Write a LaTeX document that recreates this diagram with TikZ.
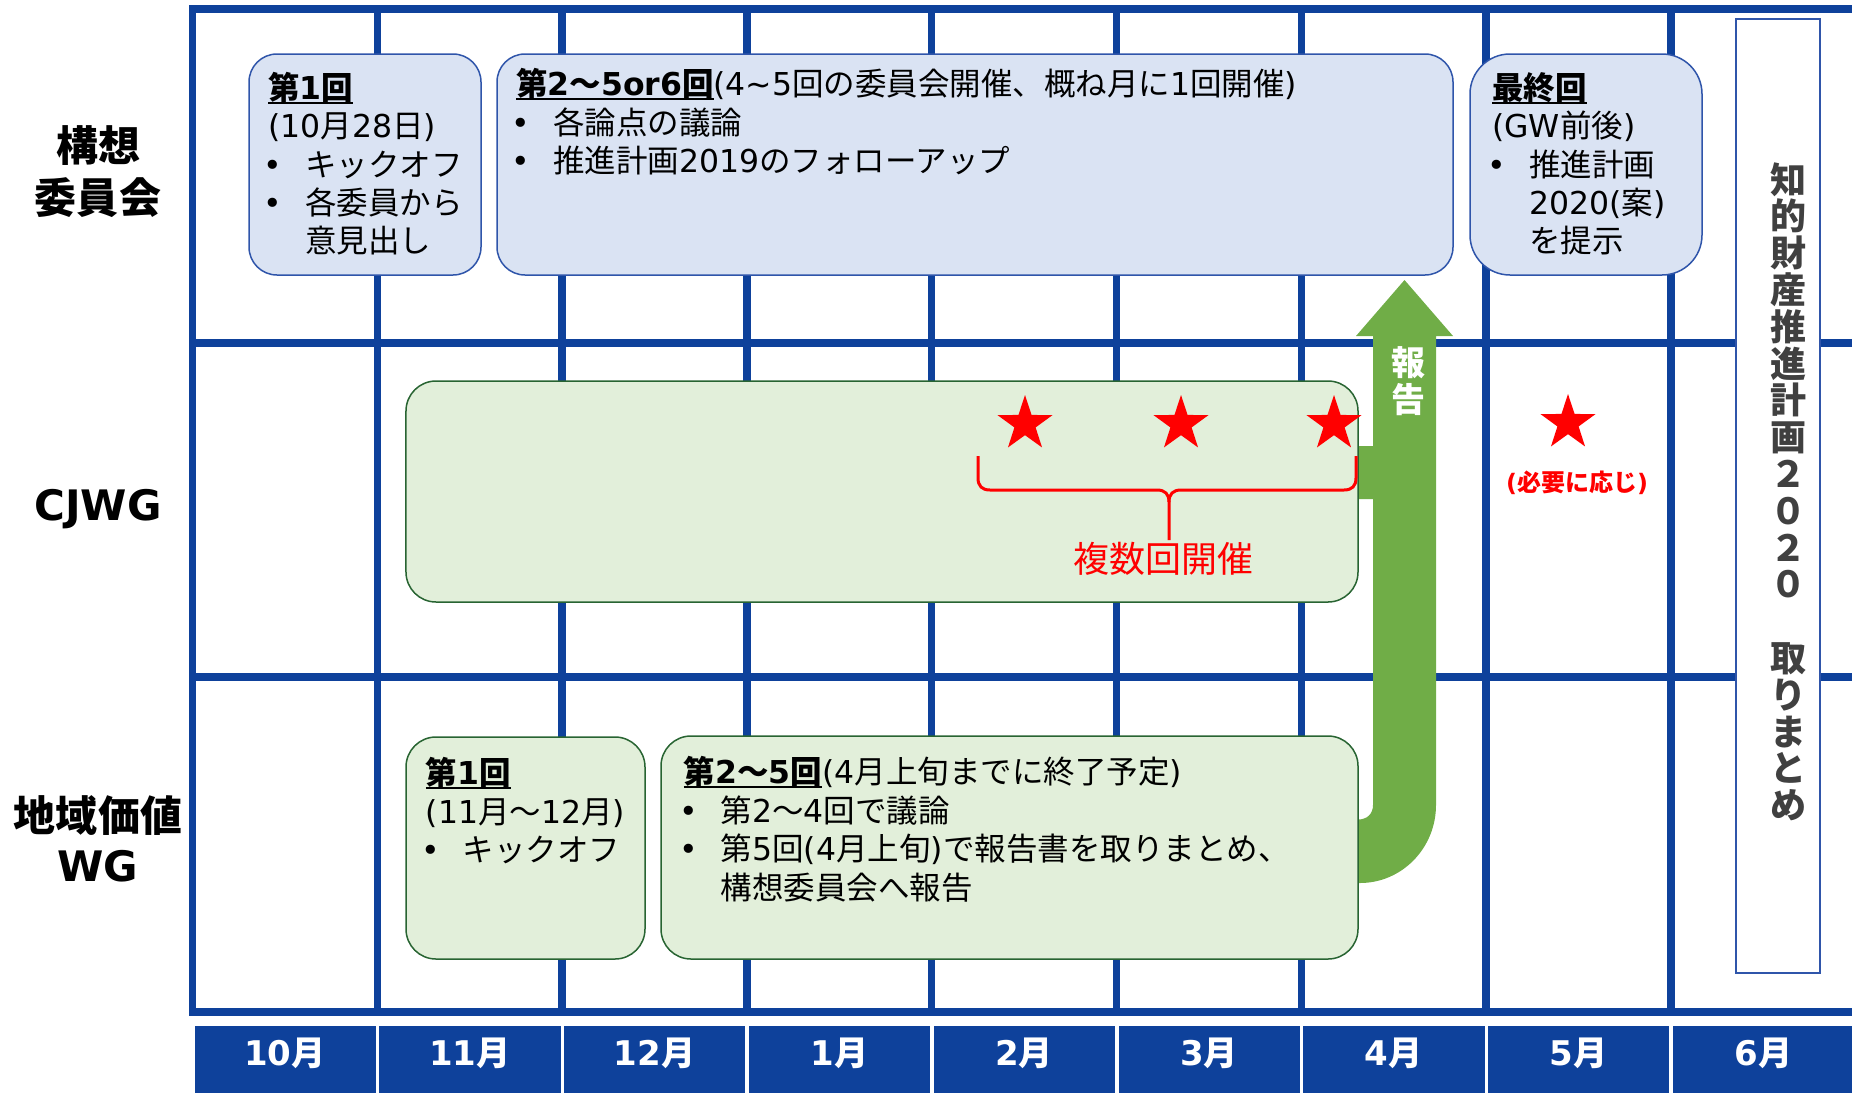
\documentclass[tikz,border=0pt]{standalone}
\usepackage{fontspec}
\setmainfont{Noto Sans CJK JP}
\newfontfamily\dejavu{DejaVu Sans}
\usetikzlibrary{shapes.geometric}
\definecolor{gridblue}{RGB}{14,65,155}
\definecolor{kfill}{RGB}{218,227,243}
\definecolor{kdraw}{RGB}{47,85,170}
\definecolor{gfill}{RGB}{226,239,218}
\definecolor{gdraw}{RGB}{40,100,50}
\definecolor{agreen}{RGB}{112,173,71}
\definecolor{vgray}{RGB}{64,64,64}
\newcommand{\myul}[1]{\setbox0=\hbox{#1}\leavevmode\rlap{\rule[-5bp]{\wd0}{2.4bp}}\box0}
\newcommand{\mybul}{\makebox[37bp][l]{\makebox[10bp]{\dejavu •}}}
\newcommand{\myind}{\hspace*{37bp}}
\newcommand{\latn}[1]{{\dejavu #1}}
\begin{document}
\begin{tikzpicture}[x=1bp,y=-1bp,
  gl/.style={draw=gridblue, line width=7.5bp},
  kbox/.style={draw=kdraw, fill=kfill, line width=1.5bp, rounded corners=28bp, rectangle, inner sep=0},
  gbox/.style={draw=gdraw, fill=gfill, line width=1.5bp, rounded corners=30bp, rectangle, inner sep=0},
  tx/.style={font=\fontsize{31.5bp}{38bp}\selectfont, inner sep=0, anchor=base west},
  lab/.style={font=\fontsize{42bp}{50bp}\selectfont\bfseries, inner sep=0, anchor=base},
  labl/.style={font=\fontsize{42bp}{50bp}\selectfont\bfseries, inner sep=0},
  month/.style={font=\fontsize{34bp}{40bp}\selectfont\bfseries, text=white, inner sep=0},
  vt/.style={font=\fontsize{36bp}{40bp}\selectfont\bfseries, text=vgray, inner sep=0, anchor=base},
  hk/.style={font=\fontsize{34bp}{40bp}\selectfont\bfseries, text=white, inner sep=0, anchor=base},
  rstar/.style={star, star points=5, star point ratio=2.6, fill=red, minimum size=58bp, inner sep=0}]
\useasboundingbox (0,0) rectangle (1852,1093);
% grid
\draw[gl, line width=7bp] (192.5,5) -- (192.5,1015.5);
\foreach \y in {9,343,677,1012} \draw[gl] (189,\y) -- (1852,\y);
\foreach \i in {1,...,8} \draw[gl] ({192.5+184.8*\i},9) -- ({192.5+184.8*\i},1012);
% month headers
\foreach \i/\m in {0/10,1/11,2/12,3/1,4/2,5/3,6/4,7/5,8/6} {
  \fill[gridblue] ({192.5+184.8*\i+2},1026) rectangle ({min(192.5+184.8*(\i+1)-1.5,1852)},1093);
  \node[month] (m\i) at ({192.5+184.8*(\i+0.5)},1053) {\latn{\m}月};
}
% vertical summary box
\node[draw=kdraw, fill=white, line width=2bp, minimum width=84bp, minimum height=954bp, inner sep=0] (vb) at (1778,496) {};
\foreach \c [count=\i from 0] in {知,的,財,産,推,進,計,画,２,０,２,０}
  \node[vt] (v\i) at (1788,{193+36.8*\i}) {\c};
\foreach \c [count=\i from 13] in {取,り,ま,と,め}
  \node[vt] (v\i) at (1788,{193+36.8*\i}) {\c};
% green report arrow
\fill[agreen] (1358,883) -- (1360,883) .. controls (1402,883) and (1436,848) .. (1436,805)
  -- (1436,336) -- (1453,336) -- (1404.5,280) -- (1356,336) -- (1373,336) -- (1373,446)
  -- (1358,446) -- (1358,499) -- (1373,499) -- (1373,805)
  .. controls (1373,814) and (1367,819.5) .. (1358,819.5) -- cycle;
\node[hk] (h1) at (1408,375) {報};
\node[hk] (h2) at (1408,412) {告};
% boxes
\node[kbox, minimum width=232bp, minimum height=221bp] (k1) at (365,164.5) {};
\node[kbox, minimum width=956bp, minimum height=221bp] (k2) at (975,164.5) {};
\node[kbox, rounded corners=40bp, minimum width=232bp, minimum height=221bp] (k3) at (1586,164.5) {};
\node[gbox, minimum width=952bp, minimum height=221bp] (cj) at (882,491.5) {};
\node[gbox, minimum width=239bp, minimum height=222bp] (c1) at (525.5,848) {};
\node[gbox, minimum width=697bp, minimum height=223bp] (c2) at (1009.5,847.5) {};
% row labels
\node[lab] (r1a) at (98,161) {構想};
\node[lab] (r1b) at (98,213) {委員会};
\node[labl] (r2) at (98,509) {\latn{CJWG}};
\node[lab] (r3a) at (98,831) {地域価値};
\node[labl] (r3b) at (98,866) {\latn{WG}};
% box texts
\node[tx] (k1a) at (268,99) {\bfseries\myul{第\latn{1}回}};
\node[tx] (k1b) at (268,137.5) {\latn{(10}月\latn{28}日\latn{)}};
\node[tx] (k1c) at (268,176) {\mybul キックオフ};
\node[tx] (k1d) at (268,214) {\mybul 各委員から};
\node[tx] (k1e) at (268,252.5) {\myind 意見出し};
\node[tx] (k2a) at (516,95) {{\bfseries\myul{第\latn{2}～\latn{5or6}回}}\latn{(4\textasciitilde 5}回の委員会開催、概ね月に\latn{1}回開催\latn{)}};
\node[tx] (k2b) at (516,134) {\mybul 各論点の議論};
\node[tx] (k2c) at (516,172) {\mybul 推進計画\latn{2019}のフォローアップ};
\node[tx] (k3a) at (1492,99) {\bfseries\myul{最終回}};
\node[tx] (k3b) at (1492,137.5) {\latn{(GW}前後\latn{)}};
\node[tx] (k3c) at (1492,176) {\mybul 推進計画};
\node[tx] (k3d) at (1492,214) {\myind\latn{2020(}案\latn{)}};
\node[tx] (k3e) at (1492,252.5) {\myind を提示};
\node[tx] (c1a) at (425.6,784) {\bfseries\myul{第\latn{1}回}};
\node[tx] (c1b) at (425.6,823) {\latn{(11}月～\latn{12}月\latn{)}};
\node[tx] (c1c) at (425.6,861) {\mybul キックオフ};
\node[tx] (c2a) at (683.7,783) {{\bfseries\myul{第\latn{2}～\latn{5}回}}\latn{(4}月上旬までに終了予定\latn{)}};
\node[tx] (c2b) at (683.7,822) {\mybul 第\latn{2}～\latn{4}回で議論};
\node[tx] (c2c) at (683.7,860) {\mybul 第\latn{5}回\latn{(4}月上旬\latn{)}で報告書を取りまとめ、};
\node[tx] (c2d) at (683.7,899) {\myind 構想委員会へ報告};
% stars
\node[rstar] (s1) at (1025,424) {};
\node[rstar] (s2) at (1181,424) {};
\node[rstar] (s3) at (1334,424) {};
\node[rstar] (s4) at (1568,423) {};
\node[font=\fontsize{24bp}{28bp}\selectfont\bfseries, text=red, inner sep=0] (hy) at (1577,483) {\latn{(}必要に応じ\latn{)}};
% brace
\coordinate (brL) at (978,456);
\coordinate (brR) at (1356,456);
\coordinate (brM) at (1169,540);
\draw[red, line width=3bp, line join=round] (brL) -- (978,478) .. controls (978,486) and (982,490) .. (990,490)
  -- (1157,490) .. controls (1165,490) and (1169,494) .. (1169,502) -- (brM);
\draw[red, line width=3bp, line join=round] (brR) -- (1356,478) .. controls (1356,486) and (1352,490) .. (1344,490)
  -- (1181,490) .. controls (1173,490) and (1169,494) .. (1169,502);
\node[font=\fontsize{36bp}{40bp}\selectfont, text=red, inner sep=0] (fk) at (1163,559) {複数回開催};
\end{tikzpicture}
\end{document}
